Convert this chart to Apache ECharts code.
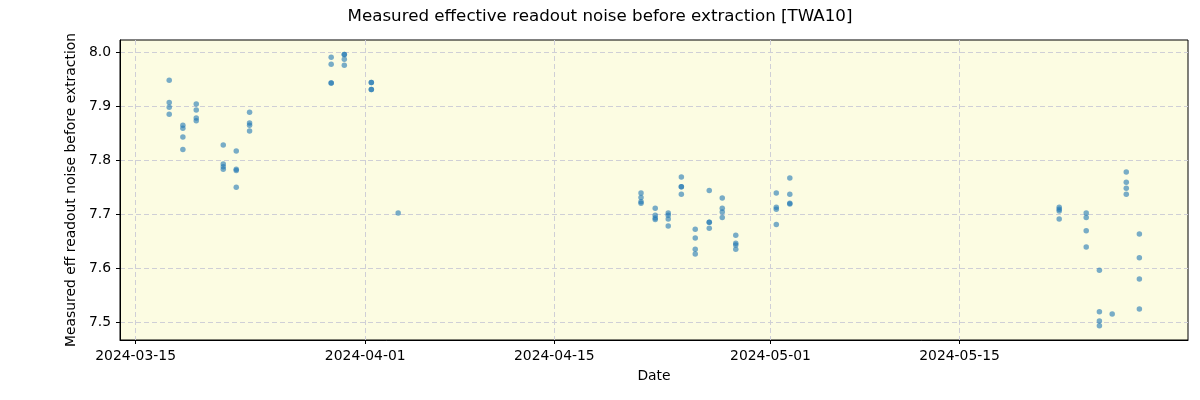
<!DOCTYPE html>
<html>
<head>
<meta charset="utf-8">
<script src="https://cdn.jsdelivr.net/npm/echarts@6/dist/echarts.min.js"></script>
<style>html,body{margin:0;padding:0;background:#fff}#c{width:1200px;height:400px}</style>
</head>
<body>
<div id="c"></div>
<script>
// Observation times (local) and measured values
const obsTimes = [
  '2024-03-17 11:45','2024-03-17 11:45','2024-03-17 11:45','2024-03-17 11:45',
  '2024-03-18 12:00','2024-03-18 12:00','2024-03-18 12:00','2024-03-18 12:00',
  '2024-03-19 11:45','2024-03-19 11:45','2024-03-19 11:45','2024-03-19 11:45',
  '2024-03-21 11:45','2024-03-21 11:45','2024-03-21 11:45','2024-03-21 11:45',
  '2024-03-22 10:50','2024-03-22 10:50','2024-03-22 10:50','2024-03-22 10:50',
  '2024-03-23 10:30','2024-03-23 10:30','2024-03-23 10:30','2024-03-23 10:30',
  '2024-03-29 11:30','2024-03-29 11:30','2024-03-29 11:30','2024-03-29 11:30',
  '2024-03-30 10:50','2024-03-30 10:50','2024-03-30 10:50','2024-03-30 10:50',
  '2024-04-01 10:50','2024-04-01 10:50','2024-04-01 10:50','2024-04-01 10:50',
  '2024-04-03 10:30',
  '2024-04-21 10:00','2024-04-21 10:00','2024-04-21 10:00','2024-04-21 10:00',
  '2024-04-22 11:15','2024-04-22 11:15','2024-04-22 11:15','2024-04-22 11:15',
  '2024-04-23 10:20','2024-04-23 10:20','2024-04-23 10:20','2024-04-23 10:20',
  '2024-04-24 09:40','2024-04-24 09:40','2024-04-24 09:40','2024-04-24 09:40',
  '2024-04-25 10:20','2024-04-25 10:20','2024-04-25 10:20','2024-04-25 10:20',
  '2024-04-26 11:15','2024-04-26 11:15','2024-04-26 11:15','2024-04-26 11:15',
  '2024-04-27 10:20','2024-04-27 10:20','2024-04-27 10:20','2024-04-27 10:20',
  '2024-04-28 10:20','2024-04-28 10:20','2024-04-28 10:20','2024-04-28 10:20',
  '2024-05-01 10:20','2024-05-01 10:20','2024-05-01 10:20','2024-05-01 10:20',
  '2024-05-02 10:20','2024-05-02 10:20','2024-05-02 10:20','2024-05-02 10:20',
  '2024-05-22 09:00','2024-05-22 09:00','2024-05-22 09:00','2024-05-22 09:00',
  '2024-05-24 09:00','2024-05-24 09:00','2024-05-24 09:00','2024-05-24 09:00',
  '2024-05-25 08:25','2024-05-25 08:25','2024-05-25 08:25','2024-05-25 08:25',
  '2024-05-26 07:10',
  '2024-05-27 08:10','2024-05-27 08:10','2024-05-27 08:10','2024-05-27 08:10',
  '2024-05-28 07:25','2024-05-28 07:25','2024-05-28 07:25','2024-05-28 07:25'
];
const noiseValues = [
  7.948, 7.907, 7.898, 7.885,
  7.865, 7.859, 7.843, 7.820,
  7.904, 7.893, 7.878, 7.873,
  7.828, 7.793, 7.788, 7.783,
  7.817, 7.783, 7.781, 7.750,
  7.889, 7.869, 7.865, 7.854,
  7.991, 7.978, 7.943, 7.943,
  7.996, 7.996, 7.987, 7.976,
  7.944, 7.944, 7.931, 7.931,
  7.702,
  7.739, 7.731, 7.723, 7.720,
  7.711, 7.698, 7.693, 7.690,
  7.702, 7.698, 7.691, 7.678,
  7.769, 7.751, 7.751, 7.737,
  7.672, 7.656, 7.635, 7.626,
  7.744, 7.685, 7.685, 7.674,
  7.730, 7.711, 7.704, 7.694,
  7.661, 7.646, 7.643, 7.635,
  7.739, 7.713, 7.709, 7.681,
  7.767, 7.737, 7.720, 7.719,
  7.713, 7.709, 7.706, 7.691,
  7.702, 7.694, 7.669, 7.639,
  7.596, 7.519, 7.502, 7.493,
  7.515,
  7.778, 7.759, 7.748, 7.737,
  7.663, 7.619, 7.580, 7.524
];
const xTickLabels = ['2024-03-15','2024-04-01','2024-04-15','2024-05-01','2024-05-15'];
const yTickValues = [7.5, 7.6, 7.7, 7.8, 7.9, 8.0];

function toTs(s) {
  const m = s.match(/(\d+)-(\d+)-(\d+)(?:\s+(\d+):(\d+))?/);
  return new Date(+m[1], +m[2] - 1, +m[3], m[4] ? +m[4] : 0, m[5] ? +m[5] : 0).getTime();
}
const data = obsTimes.map((t, i) => [toTs(t), noiseValues[i]]);
const xTicks = xTickLabels.map(toTs);
const pad = n => (n < 10 ? '0' : '') + n;
const font = 'DejaVu Sans';

const chart = echarts.init(document.getElementById('c'), null, {renderer: 'canvas'});
chart.setOption({
  animation: false,
  backgroundColor: '#ffffff',
  title: {
    text: 'Measured effective readout noise before extraction [TWA10]',
    left: 'center', top: 3,
    textStyle: {fontFamily: font, fontSize: 16.7, fontWeight: 'normal', color: '#000'}
  },
  grid: {
    left: 120, right: 12, top: 40, bottom: 60,
    show: true, backgroundColor: '#fcfce2', borderColor: '#000', borderWidth: 1
  },
  xAxis: {
    type: 'value',
    min: toTs('2024-03-13 20:17'),
    max: toTs('2024-05-31 21:50'),
    name: 'Date', nameLocation: 'middle', nameGap: 29,
    nameTextStyle: {fontFamily: font, fontSize: 13.9, color: '#000'},
    axisLine: {show: true, lineStyle: {color: '#000', width: 1}},
    axisTick: {show: true, inside: false, length: 4, customValues: xTicks, lineStyle: {color: '#000'}},
    axisLabel: {
      customValues: xTicks, margin: 9, fontFamily: font, fontSize: 13.9, color: '#000',
      formatter: v => { const d = new Date(v); return d.getFullYear() + '-' + pad(d.getMonth() + 1) + '-' + pad(d.getDate()); }
    },
    splitLine: {show: true, lineStyle: {color: '#cfcfd6', type: [5, 3], width: 1}}
  },
  yAxis: {
    type: 'value',
    min: 7.4667, max: 8.0228,
    name: 'Measured eff readout noise before extraction', nameLocation: 'middle', nameGap: 38,
    nameTextStyle: {fontFamily: font, fontSize: 13.9, color: '#000'},
    axisLine: {show: true, lineStyle: {color: '#000', width: 1}},
    axisTick: {show: true, inside: false, length: 4, customValues: yTickValues, lineStyle: {color: '#000'}},
    axisLabel: {
      customValues: yTickValues, margin: 9, fontFamily: font, fontSize: 13.9, color: '#000',
      formatter: v => v.toFixed(1)
    },
    splitLine: {show: true, lineStyle: {color: '#cfcfd6', type: [5, 3], width: 1}}
  },
  series: [{
    type: 'scatter',
    data: data,
    symbolSize: 5.5,
    itemStyle: {color: '#1f77b4', opacity: 0.6}
  }]
});
</script>
</body>
</html>
